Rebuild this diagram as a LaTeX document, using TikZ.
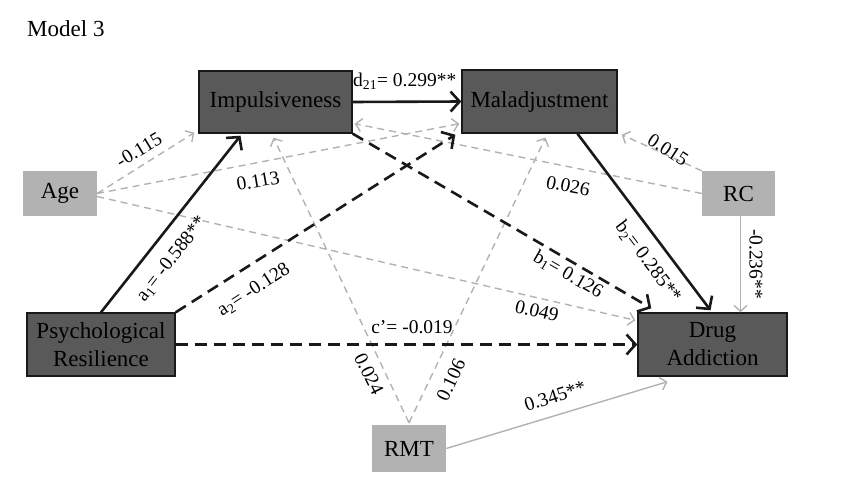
\documentclass[tikz,border=0pt]{standalone}
\usepackage{fontspec}
\setmainfont{Liberation Serif}
\usetikzlibrary{arrows.meta}
\definecolor{boxdark}{RGB}{89,89,89}
\definecolor{boxlight}{RGB}{178,178,178}
\definecolor{lightline}{RGB}{178,178,178}
\definecolor{inkblack}{RGB}{25,25,25}
\begin{document}
\begin{tikzpicture}[x=1pt,y=-1pt,
  darkbox/.style={draw=inkblack, line width=1.4pt, fill=boxdark, inner sep=0pt, align=center,
    font=\fontsize{23}{28}\selectfont, text=black},
  lightbox/.style={fill=boxlight, inner sep=0pt, align=center,
    font=\fontsize{23}{28}\selectfont, text=black},
  lbl/.style={inner sep=0pt, font=\fontsize{19.5}{22}\selectfont, text=black},
  mainpath/.style={draw=inkblack, line width=2.6pt,
    -{Straight Barb[length=9pt,width=20pt]}},
  maindash/.style={mainpath, dash pattern=on 12pt off 7pt},
  ctrlpath/.style={draw=lightline, line width=1.4pt,
    -{Straight Barb[length=6pt,width=13pt]}},
  ctrldash/.style={ctrlpath, dash pattern=on 7pt off 5pt},
]
\useasboundingbox (0,0) rectangle (846,484);

\node[anchor=west, inner sep=0pt, font=\fontsize{23}{28}\selectfont] (title) at (27,29) {Model 3};

% boxes
\node[darkbox, minimum width=153, minimum height=62] (imp) at (275.5,102) {Impulsiveness};
\node[darkbox, minimum width=155, minimum height=63] (mal) at (539.5,101.5) {Maladjustment};
\node[lightbox, minimum width=74, minimum height=45] (age) at (60,193.5) {Age};
\node[lightbox, minimum width=73, minimum height=45] (rc) at (738.5,193.5) {RC};
\node[darkbox, minimum width=148, minimum height=63] (psy) at (101,344.5) {Psychological\\Resilience};
\node[darkbox, minimum width=149, minimum height=63] (da) at (712.5,344.5) {Drug\\Addiction};
\node[lightbox, minimum width=74, minimum height=47] (rmt) at (409,448.5) {RMT};

% control paths (gray)
\draw[ctrldash] (age.east) -- ([xshift=-4pt,yshift=1pt]imp.south west);
\draw[ctrldash] (age.east) -- ([xshift=-2pt,yshift=10pt]mal.south west);
\draw[ctrldash] ([yshift=-3pt]age.east) -- ([xshift=-2pt,yshift=-8pt]da.north west);
\draw[ctrldash] (rc.north west) -- ([xshift=4pt,yshift=-1pt]mal.south east);
\draw[ctrldash] (rc.west) -- ([xshift=2pt,yshift=10pt]imp.south east);
\draw[ctrldash] ([yshift=2pt]rmt.north) -- ([xshift=-2pt,yshift=-4pt]imp.south);
\draw[ctrldash] ([yshift=2pt]rmt.north) -- ([xshift=6pt,yshift=-4pt]mal.south);
\coordinate (rcdown) at ([xshift=2pt]rc.south);
\draw[ctrlpath] (rcdown) -- (rcdown |- da.north);
\draw[ctrlpath] (rmt.east) -- ([xshift=-45pt,yshift=-5pt]da.south);

% main paths
\draw[mainpath] ([xshift=0pt]psy.north) -- ([xshift=-35pt,yshift=-2pt]imp.south);
\draw[maindash] (psy.north east) -- ([xshift=-6pt,yshift=-1pt]mal.south west);
\draw[maindash] (psy.east) -- (da.west);
\draw[mainpath] (imp.east) -- (mal.west);
\draw[maindash] (imp.south east) -- ([xshift=14pt,yshift=4pt]da.north west);
\draw[mainpath] ([xshift=38pt]mal.south) -- ([xshift=-2pt,yshift=2pt]da.north);

% labels
\node[lbl, rotate=31] (l115) at (139,150) {-0.115};
\node[lbl, rotate=10] (l113) at (258,181) {0.113};
\node[lbl, rotate=-11] (l026) at (568,186) {0.026};
\node[lbl, rotate=-33] (l015) at (668,150) {0.015};
\node[lbl, rotate=52] (la1) at (172,259) {a\textsubscript{1}= -0.588**};
\node[lbl, rotate=33] (la2) at (254,290) {a\textsubscript{2}= -0.128};
\node[lbl] (lc) at (412,327) {c’= -0.019};
\node[lbl, rotate=-64] (l024) at (369,374) {0.024};
\node[lbl, rotate=65] (l106) at (451,380) {0.106};
\node[lbl, rotate=-13] (l049) at (537,311) {0.049};
\node[lbl, rotate=-30] (lb1) at (568,275) {b\textsubscript{1}= 0.126};
\node[lbl, rotate=-53] (lb2) at (648,262) {b\textsubscript{2}= 0.285**};
\node[lbl, rotate=-90] (l236) at (756,264) {-0.236**};
\node[lbl, rotate=18] (l345) at (555,396) {0.345**};
\node[lbl, anchor=west] (ld) at (353,81) {d\textsubscript{21}= 0.299**};
\end{tikzpicture}
\end{document}
